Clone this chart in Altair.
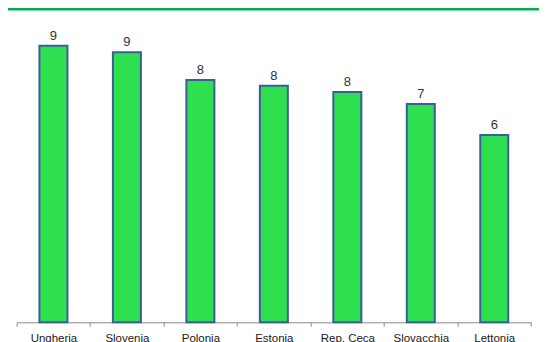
import altair as alt
import pandas as pd

paesi = ["Ungheria", "Slovenia", "Polonia", "Estonia", "Rep. Ceca", "Slovacchia", "Lettonia"]
valori = [9.2, 8.98, 8.06, 7.87, 7.66, 7.26, 6.23]

df = pd.DataFrame({"paese": paesi, "valore": valori})

W = 514.3
H = 300.7

x = alt.X("paese:N", sort=paesi, title=None,
          scale=alt.Scale(paddingInner=0, paddingOuter=0),
          axis=alt.Axis(labelAngle=0, tickBand="extent", tickSize=4,
                        domainColor="#8c8c8c", tickColor="#8c8c8c",
                        labelFont="Liberation Sans", labelFontSize=11.5,
                        labelColor="#1a1a1a", labelPadding=6.5))
y = alt.Y("valore:Q", title=None, axis=None,
          scale=alt.Scale(domain=[0, 10], nice=False))

base = alt.Chart(df)

bars = base.mark_bar(size=28, color="#2EE050", stroke="#3A5D9C", strokeWidth=2).encode(x=x, y=y)

labels = base.mark_text(baseline="alphabetic", dy=-6, font="Liberation Sans",
                        fontSize=13, color="#333333").encode(
    x=x, y=y, text=alt.Text("valore:Q", format=".0f"))

topline = alt.Chart(pd.DataFrame({"a": [0]})).mark_rule(color="#00B050", strokeWidth=2.5).encode(
    x=alt.value(-9), x2=alt.value(W + 8), y=alt.value(-12.3))

chart = alt.layer(bars, labels, topline).properties(
    width=W, height=H,
    autosize=alt.AutoSizeParams(type="none"),
    padding={"left": 8.7, "top": 13.6, "right": 8, "bottom": 20},
).configure_view(stroke=None)

chart.save("out.html", embed_options={"renderer": "svg", "actions": False})
